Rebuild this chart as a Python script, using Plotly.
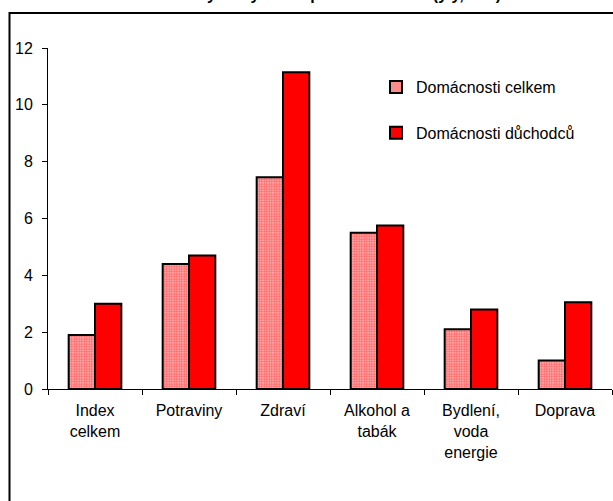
import plotly.graph_objects as go

categories = ["Index<br>celkem", "Potraviny", "Zdraví", "Alkohol a<br>tabák", "Bydlení,<br>voda<br>energie", "Doprava"]
series_names = ["Domácnosti celkem", "Domácnosti důchodců"]
vals_celkem = [1.9, 4.4, 7.45, 5.5, 2.1, 1.0]
vals_duchodcu = [3.0, 4.7, 11.15, 5.75, 2.8, 3.05]
y_ticks = [0, 2, 4, 6, 8, 10, 12]
title_text = "Inflace vybraných skupin domácností (y/y, v %)"

FONT = "Liberation Sans, Arial, sans-serif"

fig = go.Figure()
fig.add_trace(go.Bar(
    x=categories, y=vals_celkem, name=series_names[0], legendgroup="a",
    marker=dict(color="#ffffff", line=dict(color="black", width=2),
                pattern=dict(shape=".", fgcolor="#ff0000", bgcolor="#ffd4d4", size=2.5, solidity=0.7)),
))
fig.add_trace(go.Bar(
    x=categories, y=vals_duchodcu, name=series_names[1], legendgroup="b",
    marker=dict(color="#ff0000", line=dict(color="black", width=2)),
))

W, H = 613, 501
L, R, T, B = 48, 1, 48, 112
pw, ph = W - L - R, H - T - B

def px_to_paper_x(px):
    return (px - L) / pw

def px_to_paper_y(py):
    return (H - B - py) / ph

fig.update_layout(
    width=W, height=H,
    margin=dict(l=L, r=R, t=T, b=B, pad=0),
    paper_bgcolor="white", plot_bgcolor="white",
    font=dict(family=FONT, size=16, color="black"),
    barmode="group", bargap=0.44, bargroupgap=0,
    showlegend=True,
    legend=dict(x=px_to_paper_x(376), y=px_to_paper_y(70), xanchor="left", yanchor="top",
                bgcolor="rgba(0,0,0,0)", tracegroupgap=22,
                font=dict(family=FONT, size=16, color="black"),
                itemwidth=30),
    xaxis=dict(showline=True, linecolor="black", linewidth=1, ticks="outside", ticklen=5,
               tickcolor="black", tickson="boundaries", showgrid=False, zeroline=False,
               ticklabelstandoff=7, tickfont=dict(family=FONT, size=16)),
    yaxis=dict(range=[0, 12], tickvals=y_ticks, showline=True, linecolor="black", linewidth=1,
               ticks="outside", ticklen=5, tickcolor="black", showgrid=False, zeroline=False,
               ticklabelstandoff=6, tickfont=dict(family=FONT, size=16)),
    annotations=[dict(text="<b>" + title_text + "</b>", xref="paper", yref="paper",
                      x=px_to_paper_x(322), y=px_to_paper_y(5), xanchor="center", yanchor="bottom",
                      showarrow=False, font=dict(family=FONT, size=16, color="black"))],
    shapes=[dict(type="rect", xref="paper", yref="paper",
                 x0=px_to_paper_x(9.5), x1=px_to_paper_x(640),
                 y0=px_to_paper_y(540), y1=px_to_paper_y(13),
                 line=dict(color="black", width=2), fillcolor="rgba(0,0,0,0)", layer="above")],
)

fig.write_html("out.html", config={"displayModeBar": False},
               post_script="document.body.style.margin='0';document.body.style.padding='0';")
